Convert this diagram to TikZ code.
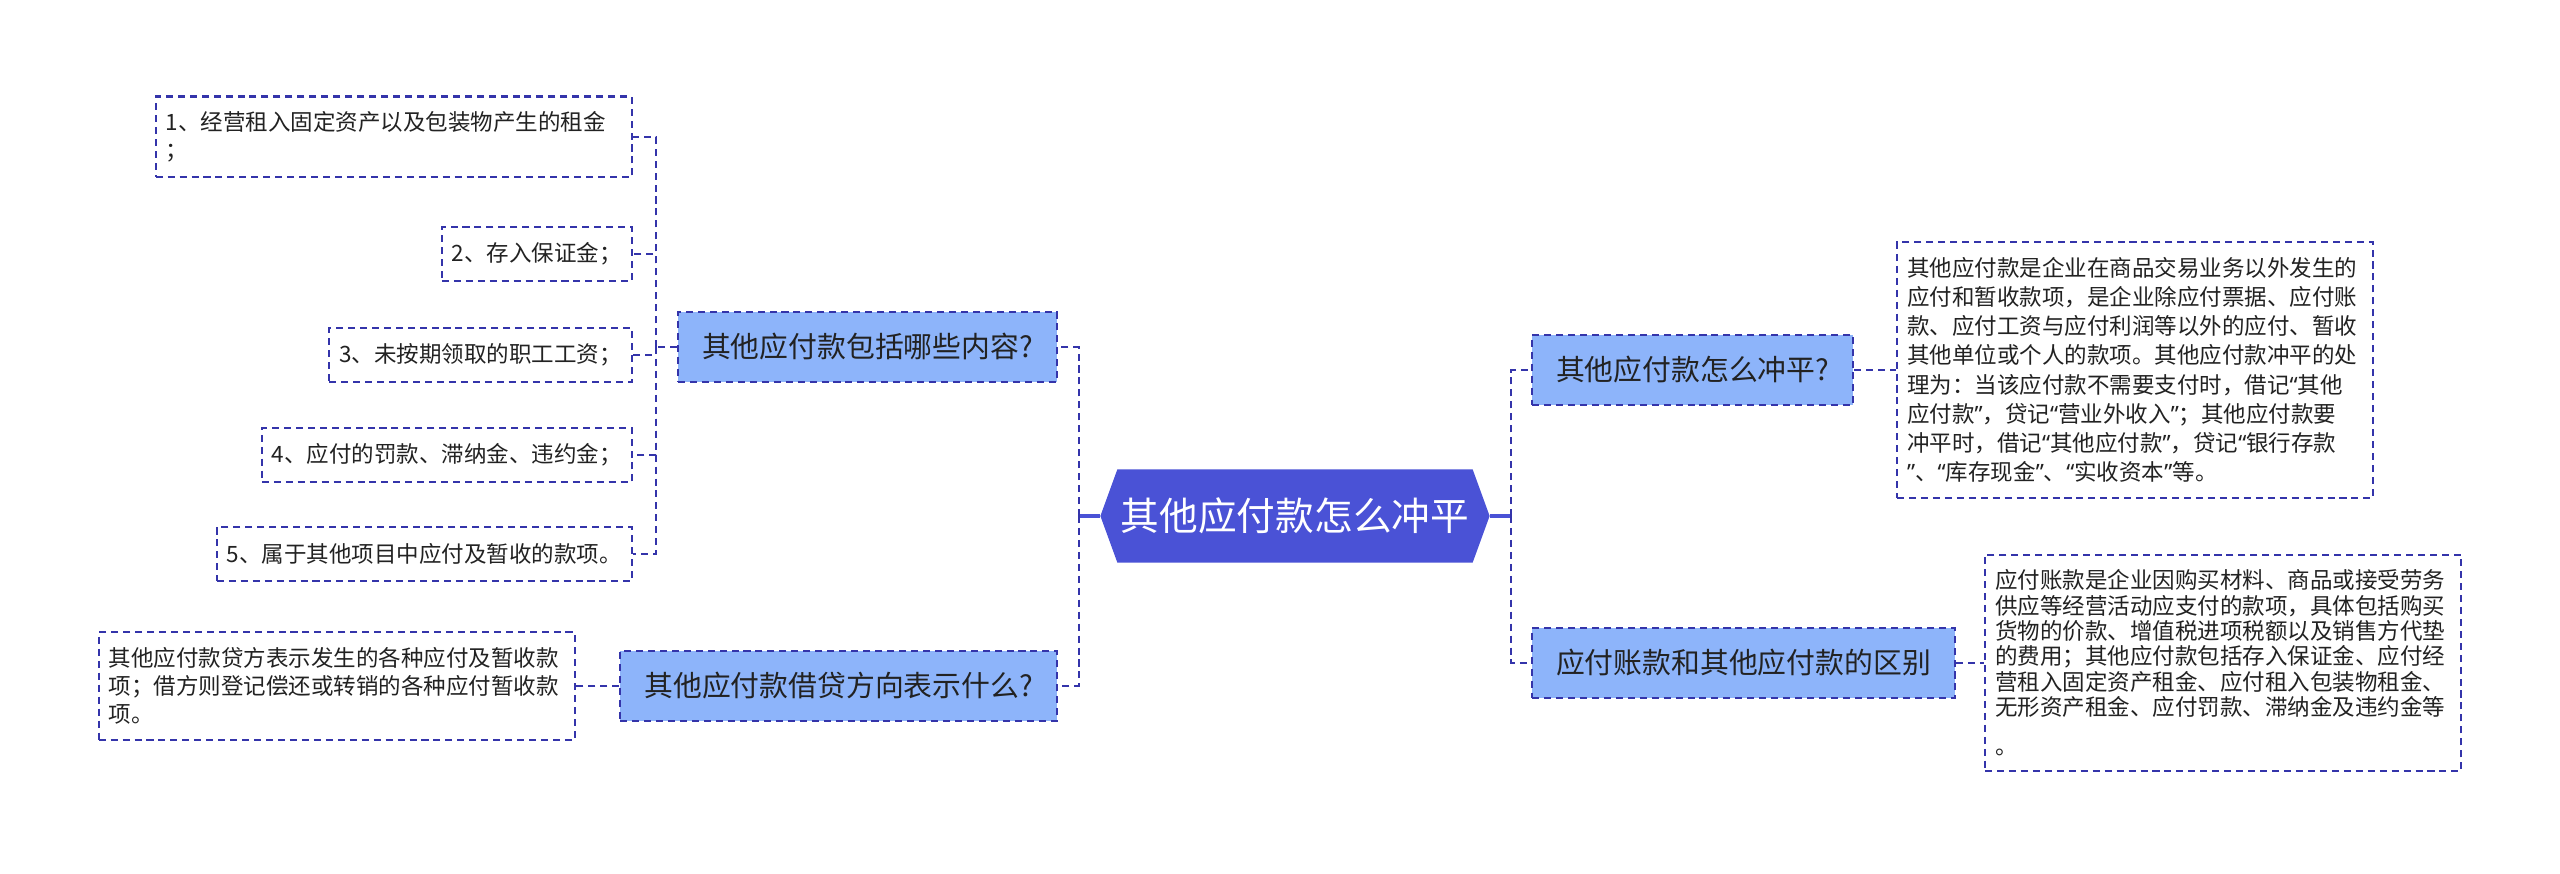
\documentclass[tikz,border=0pt]{standalone}
\usepackage{fontspec}
\setmainfont{Noto Sans CJK SC}
\newfontfamily\quotefont{Noto Sans}
\newcommand{\qopen}{{\quotefont “}}
\newcommand{\qclose}{{\quotefont ”}}
\usetikzlibrary{shapes.symbols}
\definecolor{rootblue}{RGB}{74,82,214}
\definecolor{topicblue}{RGB}{141,180,250}
\definecolor{edgeblue}{RGB}{52,52,170}
\definecolor{inkgray}{RGB}{34,34,34}

\begin{document}
\begin{tikzpicture}[x=0.01cm,y=-0.01cm]
        \tikzstyle{every node}=[text=inkgray]
        \tikzstyle{dash line}=[draw=edgeblue,line width=0.6pt,dash pattern=on 2pt off 1.4pt]
        \tikzstyle{root}=[signal,signal to=west and east,signal pointer angle=140,fill=rootblue,text=white,inner sep=0pt,minimum width=3.89cm,minimum height=0.93cm,font=\fontsize{11}{13}\selectfont]
        \tikzstyle{topic}=[dash line,fill=topicblue,inner xsep=0.24cm,inner ysep=0pt,minimum height=0.7cm,font=\fontsize{8.2}{10}\selectfont]
        \tikzstyle{leaf}=[dash line,fill=white,inner xsep=0.1cm,inner ysep=0.15cm,minimum height=0.54cm,align=left,font=\fontsize{6.4}{8}\selectfont]
        \tikzstyle{note}=[leaf,text width=4.56cm]
        \tikzstyle{link}=[dash line]
        \tikzstyle{stub}=[draw=rootblue,line width=1pt]
        \useasboundingbox (0,0) rectangle (2560,874);
        % centre and the four topics
        \node[root] (root) at (1295,516) {其他应付款怎么冲平};
        \node[topic,anchor=east] (contents) at (1058,347) {其他应付款包括哪些内容?};
        \node[topic,anchor=east] (sides) at (1058,686) {其他应付款借贷方向表示什么?};
        \node[topic,anchor=west] (offset) at (1531,370) {其他应付款怎么冲平?};
        \node[topic,anchor=west] (differ) at (1531,663) {应付账款和其他应付款的区别};
        % leaves
        \node[note,anchor=east] (item1) at (633,137) {1、经营租入固定资产以及包装物产生的租金\\；};
        \node[leaf,anchor=east] (item2) at (633,254) {2、存入保证金；};
        \node[leaf,anchor=east] (item3) at (633,355) {3、未按期领取的职工工资；};
        \node[leaf,anchor=east] (item4) at (633,455) {4、应付的罚款、滞纳金、违约金；};
        \node[leaf,anchor=east] (item5) at (633,554) {5、属于其他项目中应付及暂收的款项。};
        \node[note,anchor=east] (sidesnote) at (576,686) {其他应付款贷方表示发生的各种应付及暂收款\\项；借方则登记偿还或转销的各种应付暂收款\\项。};
        \node[note,anchor=west,font=\fontsize{6.4}{8.3}\selectfont] (offsetnote) at (1896,370) {其他应付款是企业在商品交易业务以外发生的\\应付和暂收款项，是企业除应付票据、应付账\\款、应付工资与应付利润等以外的应付、暂收\\其他单位或个人的款项。其他应付款冲平的处\\理为：当该应付款不需要支付时，借记\qopen 其他\\应付款\qclose ，贷记\qopen 营业外收入\qclose ；其他应付款要\\冲平时，借记\qopen 其他应付款\qclose ，贷记\qopen 银行存款\\\qclose 、\qopen 库存现金\qclose 、\qopen 实收资本\qclose 等。};
        \node[note,anchor=west,font=\fontsize{6.4}{7.2}\selectfont] (differnote) at (1984,663) {应付账款是企业因购买材料、商品或接受劳务\\供应等经营活动应支付的款项，具体包括购买\\货物的价款、增值税进项税额以及销售方代垫\\的费用；其他应付款包括存入保证金、应付经\\营租入固定资产租金、应付租入包装物租金、\\无形资产租金、应付罚款、滞纳金及违约金等\\[4pt]。};
        % connectors
        \coordinate (lbus) at ([xshift=-0.21cm]root.west);
        \coordinate (rbus) at ([xshift=0.21cm]root.east);
        \coordinate (ibus) at ([xshift=-0.21cm]contents.west);
        \draw[stub] (root.west) -- (lbus);
        \draw[stub] (root.east) -- (rbus);
        \draw[link] (lbus) |- (contents.east);
        \draw[link] (lbus) |- (sides.east);
        \draw[link] (rbus) |- (offset.west);
        \draw[link] (rbus) |- (differ.west);
        \draw[link] (contents.west) -- (ibus);
        \draw[link] (ibus) |- (item1.east);
        \draw[link] (ibus) |- (item2.east);
        \draw[link] (ibus) |- (item3.east);
        \draw[link] (ibus) |- (item4.east);
        \draw[link] (ibus) |- (item5.east);
        \draw[link] (sides.west) -- (sidesnote.east);
        \draw[link] (offset.east) -- (offsetnote.west);
        \draw[link] (differ.east) -- (differnote.west);
    \end{tikzpicture}
\end{document}
